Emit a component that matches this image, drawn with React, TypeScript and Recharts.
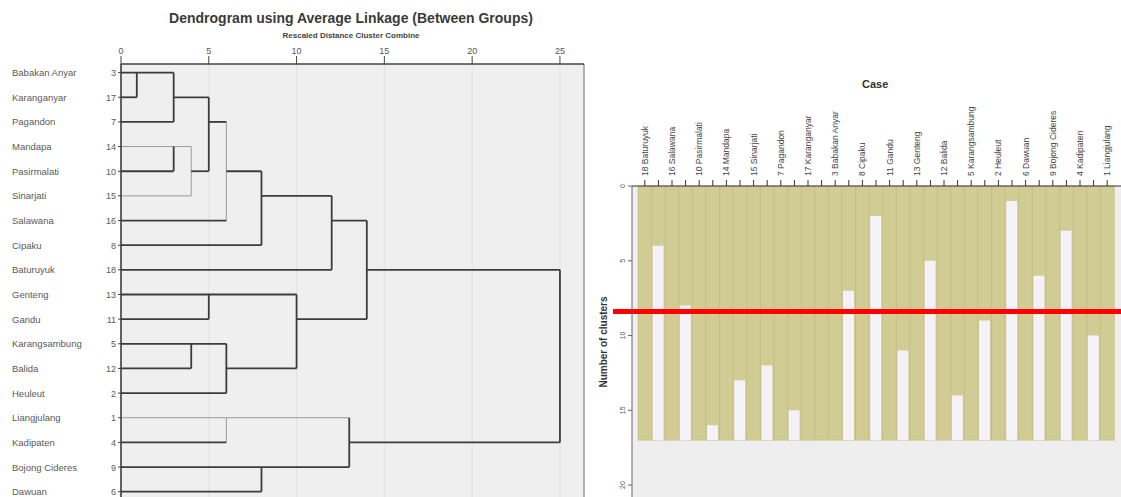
import React from 'react'
import {
  ComposedChart,
  BarChart,
  Bar,
  Scatter,
  XAxis,
  YAxis,
  CartesianGrid,
  ReferenceLine,
} from 'recharts'

const FONT = '"Liberation Sans", Arial, sans-serif'

// dendrogram rows, top to bottom
const villages = [
  'Babakan Anyar', 'Karanganyar', 'Pagandon', 'Mandapa', 'Pasirmalati', 'Sinarjati',
  'Salawana', 'Cipaku', 'Baturuyuk', 'Genteng', 'Gandu', 'Karangsambung',
  'Balida', 'Heuleut', 'Liangjulang', 'Kadipaten', 'Bojong Cideres', 'Dawuan',
]
const caseNumbers = [3, 17, 7, 14, 10, 15, 16, 8, 18, 13, 11, 5, 12, 2, 1, 4, 9, 6]
const distanceTicks = [0, 5, 10, 15, 20, 25]

// [fromDistance, fromRow, toDistance, toRow]
const darkLinks = [
  [0, 1, 3, 1], [0.9, 1, 0.9, 2], [0, 2, 0.9, 2], [3, 1, 3, 3], [0, 3, 3, 3],
  [3, 2, 5, 2], [5, 2, 5, 5], [4, 5, 5, 5], [0, 5, 3, 5], [3, 4, 3, 5],
  [5, 3, 6, 3], [0, 7, 6, 7], [6, 5, 8, 5], [8, 5, 8, 8], [0, 8, 8, 8],
  [8, 6, 12, 6], [12, 6, 12, 9], [0, 9, 12, 9], [12, 7, 14, 7], [14, 7, 14, 11],
  [10, 11, 14, 11], [0, 10, 10, 10], [5, 10, 5, 11], [0, 11, 5, 11], [10, 10, 10, 13],
  [0, 12, 6, 12], [4, 12, 4, 13], [0, 13, 4, 13], [6, 13, 10, 13], [6, 12, 6, 14],
  [0, 14, 6, 14], [14, 9, 25, 9], [25, 9, 25, 16], [13, 16, 25, 16], [13, 15, 13, 17],
  [0, 16, 6, 16], [0, 17, 13, 17], [8, 17, 8, 18], [0, 18, 8, 18],
]
const lightLinks = [
  [0, 4, 4, 4], [4, 4, 4, 6], [0, 6, 4, 6], [6, 3, 6, 7], [0, 15, 13, 15], [6, 15, 6, 16],
]

// icicle columns, left to right
const icicleCases = [
  '18 Baturuyuk', '16 Salawana', '10 Pasirmalati', '14 Mandapa', '15 Sinarjati', '7 Pagandon',
  '17 Karanganyar', '3 Babakan Anyar', '8 Cipaku', '11 Gandu', '13 Genteng', '12 Balida',
  '5 Karangsambung', '2 Heuleut', '6 Dawuan', '9 Bojong Cideres', '4 Kadipaten', '1 Liangjulang',
]
// number of clusters at which the neighbours are still joined
const splitLevels = [4, 8, 16, 13, 12, 15, 17, 7, 2, 11, 5, 14, 9, 1, 6, 3, 10]
const clusterTicks = [0, 5, 10, 15, 20]
const cutLevel = 8.4

const rowCount = icicleCases.length - 1

const leaves = villages.map((v, i) => ({ d: 0, row: i + 1 }))

const slots = icicleCases.flatMap((name, i) => {
  const out: any[] = [{ slot: `c${i}`, name, full: rowCount, split: null }]
  if (i < splitLevels.length) {
    const lv = splitLevels[i]
    out.push({ slot: `g${i}`, name: '', full: rowCount, split: lv < rowCount ? [lv, rowCount] : null })
  }
  return out
})
const slotNames: Record<string, string> = Object.fromEntries(slots.map((s) => [s.slot, s.name]))

function RowTick(props: any) {
  const { x, y, payload } = props
  const i = payload.value - 1
  return (
    <g fontFamily={FONT}>
      <text x={12} y={y} dy={3.5} fontSize={9.5} fill="#5a5a5a">
        {villages[i]}
      </text>
      <text x={x} y={y} dy={3.5} textAnchor="end" fontSize={9} fill="#5a5a5a">
        {caseNumbers[i]}
      </text>
    </g>
  )
}

function CaseTick(props: any) {
  const { x, y, payload } = props
  const name = slotNames[payload.value]
  if (!name) return <g />
  return (
    <text
      transform={`translate(${x + 3},${y - 2}) rotate(-90)`}
      textAnchor="start"
      fontSize={8.5}
      fill="#444"
      fontFamily={FONT}
    >
      {name}
    </text>
  )
}

function ClusterTick(props: any) {
  const { x, y, payload } = props
  return (
    <text
      transform={`translate(${x - 1},${y}) rotate(-90)`}
      textAnchor="middle"
      fontSize={7}
      fill="#555"
      fontFamily={FONT}
    >
      {payload.value}
    </text>
  )
}

export default function App() {
  return (
    <div
      style={{
        position: 'absolute',
        left: 0,
        top: 0,
        width: 1121,
        height: 497,
        overflow: 'hidden',
        background: '#fff',
        fontFamily: FONT,
      }}
    >
      <div style={{ position: 'absolute', left: 0, top: 10, width: 702, textAlign: 'center', fontSize: 14, fontWeight: 'bold', color: '#3a3a3a' }}>
        Dendrogram using Average Linkage (Between Groups)
      </div>
      <div style={{ position: 'absolute', left: 0, top: 31, width: 702, textAlign: 'center', fontSize: 8, fontWeight: 'bold', color: '#444' }}>
        Rescaled Distance Cluster Combine
      </div>

      <div style={{ position: 'absolute', left: 0, top: 0 }}>
        <ComposedChart width={600} height={510} margin={{ top: 24, right: 16, left: 0, bottom: 6 }}>
          <CartesianGrid horizontal={false} fill="#efefef" stroke="#e2e2e2" />
          <XAxis
            type="number"
            dataKey="d"
            orientation="top"
            height={40}
            domain={[0, 26.37]}
            ticks={distanceTicks}
            tickSize={8}
            tick={{ fontSize: 9, fill: '#555', fontFamily: FONT }}
            axisLine={{ stroke: '#444', strokeWidth: 1.5 }}
            tickLine={{ stroke: '#444' }}
          />
          <YAxis
            type="number"
            dataKey="row"
            reversed
            width={121}
            domain={[0.65, 18.5]}
            ticks={villages.map((v, i) => i + 1)}
            tickSize={3}
            tick={<RowTick />}
            axisLine={{ stroke: '#333', strokeWidth: 1.5 }}
            tickLine={{ stroke: '#444' }}
          />
          <ReferenceLine x={26.37} stroke="#777" />
          {lightLinks.map(([a, r1, b, r2], i) => (
            <ReferenceLine
              key={`l${i}`}
              segment={[{ x: a, y: r1 }, { x: b, y: r2 }]}
              stroke="#9a9a9a"
              strokeWidth={1}
            />
          ))}
          {darkLinks.map(([a, r1, b, r2], i) => (
            <ReferenceLine
              key={`d${i}`}
              segment={[{ x: a, y: r1 }, { x: b, y: r2 }]}
              stroke="#3c3c3c"
              strokeWidth={1.8}
            />
          ))}
          <Scatter data={leaves} shape={() => <g />} isAnimationActive={false} />
        </ComposedChart>
      </div>

      <div style={{ position: 'absolute', left: 862, top: 78, fontSize: 11, fontWeight: 'bold', color: '#333' }}>
        Case
      </div>
      <div
        style={{
          position: 'absolute',
          left: 603,
          top: 342,
          transform: 'translate(-50%, -50%) rotate(-90deg)',
          whiteSpace: 'nowrap',
          fontSize: 10,
          fontWeight: 'bold',
          color: '#333',
        }}
      >
        Number of clusters
      </div>

      <div style={{ position: 'absolute', left: 560, top: 0 }}>
        <BarChart width={561} height={500} data={slots} margin={{ top: 0, right: 0, left: 0, bottom: 0 }} barCategoryGap={0}>
          <CartesianGrid xAxisId="fill" horizontal={false} vertical={false} fill="#eeeeee" />
          <XAxis
            xAxisId="fill"
            dataKey="slot"
            orientation="top"
            height={186}
            interval={0}
            tickSize={6}
            tick={<CaseTick />}
            padding={{ left: 6, right: 7 }}
            axisLine={{ stroke: '#333' }}
            tickLine={{ stroke: '#333' }}
          />
          <XAxis xAxisId="gap" dataKey="slot" hide padding={{ left: 6, right: 7 }} />
          <YAxis
            type="number"
            reversed
            width={72}
            domain={[0, 21]}
            ticks={clusterTicks}
            tickSize={4}
            tick={<ClusterTick />}
            axisLine={{ stroke: '#666' }}
            tickLine={{ stroke: '#666' }}
          />
          <Bar xAxisId="fill" dataKey="full" fill="#d1cb94" stroke="#bcb57c" strokeWidth={0.5} isAnimationActive={false} />
          <Bar xAxisId="gap" dataKey="split" fill="#f5f2f7" barSize={11} isAnimationActive={false} />
          <ReferenceLine
            xAxisId="fill"
            y={cutLevel}
            stroke="#ff0000"
            strokeWidth={5}
            shape={(p: any) => (
              <line x1={p.x1 - 19} y1={p.y1} x2={p.x2} y2={p.y2} stroke="#ff0000" strokeWidth={5} />
            )}
          />
        </BarChart>
      </div>
    </div>
  )
}
